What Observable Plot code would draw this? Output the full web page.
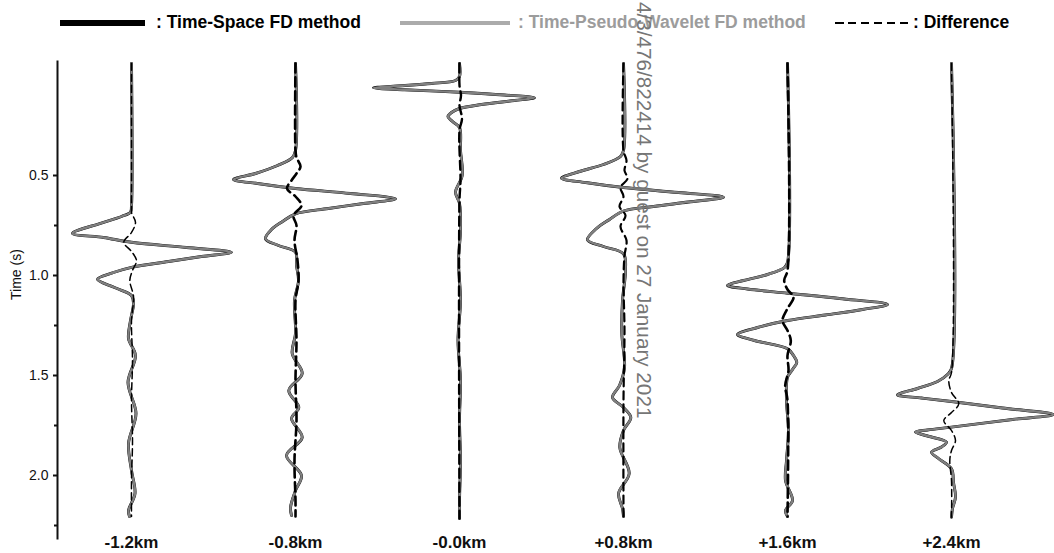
<!DOCTYPE html>
<html><head><meta charset="utf-8">
<script src="https://cdn.jsdelivr.net/npm/d3@7"></script>
<script src="https://cdn.jsdelivr.net/npm/@observablehq/plot@0.6"></script>
<style>
body{margin:0;background:#fff;font-family:"Liberation Sans",Arial,Helvetica,sans-serif;}
#wrap{position:relative;width:1054px;height:553px;overflow:hidden;background:#fff;}
#legend{position:relative;height:40px;}
.ll{position:absolute;}
.lt{position:absolute;top:14px;font-size:17.5px;font-weight:bold;line-height:17.5px;white-space:nowrap;}
#wm{position:absolute;left:633px;top:2px;writing-mode:vertical-rl;font-size:20.7px;line-height:22px;color:#767676;white-space:nowrap;}
</style></head>
<body><div id="wrap">
<div id="legend"></div>
<div id="chart"></div>
<div id="wm"></div>
</div>
<script>
// ---- data (time in s, amplitude in normalized units) ----
const traceLabels = ["-1.2km", "-0.8km", "-0.0km", "+0.8km", "+1.6km", "+2.4km"];
const legendLabels = [": Time-Space FD method", ": Time-Pseudo-Wavelet FD method", ": Difference"];
const yLabel = "Time (s)";
const yTicks = [0.5, 1.0, 1.5, 2.0];
const yMinorTicks = [0.75, 1.25, 1.75, 2.25];
const watermark = "4/3/476/822414 by guest on 27 January 2021";

// waveforms (both FD methods overlap) : [time, amplitude]
const wave_m12 = [[-0.06,0],[0.65,0],[0.683,-0.01],[0.705,-0.10],[0.739,-0.31],[0.789,-0.59],[0.81,-0.28],[0.834,0],[0.86,0.55],[0.884,1.00],[0.905,0.70],[0.93,0.37],[0.959,0],[0.985,-0.18],[1.019,-0.34],[1.06,-0.17],[1.10,0],[1.14,0.02],[1.225,-0.01],[1.315,-0.03],[1.40,0.04],[1.535,-0.035],[1.69,0.045],[1.84,-0.03],[1.975,0.0],[2.09,0.035],[2.175,-0.03],[2.205,-0.02]];
const wave_m08 = [[-0.06,0],[0.375,0],[0.41,-0.03],[0.45,-0.18],[0.49,-0.40],[0.52,-0.62],[0.54,-0.38],[0.565,0],[0.59,0.55],[0.6165,1.00],[0.64,0.68],[0.665,0.33],[0.6915,0],[0.73,-0.13],[0.77,-0.24],[0.8165,-0.30],[0.85,-0.17],[0.8835,0],[0.95,0.01],[1.025,0.03],[1.125,-0.01],[1.29,0],[1.39,-0.033],[1.49,0.067],[1.575,-0.067],[1.66,0.033],[1.715,-0.04],[1.81,0.067],[1.90,-0.09],[2.00,0.06],[2.075,0],[2.16,-0.05],[2.20,-0.04]];
const wave_00 = [[-0.06,0],[0.005,0],[0.025,-0.04],[0.04,-0.28],[0.0525,-0.62],[0.0615,-0.86],[0.071,-0.55],[0.0835,0],[0.0975,0.45],[0.1115,0.75],[0.125,0.55],[0.145,0.22],[0.165,0],[0.185,-0.08],[0.205,-0.115],[0.23,-0.07],[0.26,0],[0.375,0.01],[0.50,0.027],[0.5835,-0.04],[0.64,0],[0.775,0.01],[0.925,-0.01],[1.125,0.01],[1.325,-0.015],[1.525,0.01],[1.725,0],[1.925,0.01],[2.125,0],[2.215,0]];
const wave_p08 = [[-0.06,0],[0.375,0],[0.405,-0.03],[0.445,-0.20],[0.48,-0.44],[0.5135,-0.62],[0.535,-0.38],[0.56,0],[0.585,0.55],[0.6085,1.00],[0.6325,0.65],[0.655,0.30],[0.6775,0],[0.72,-0.14],[0.765,-0.27],[0.8215,-0.36],[0.855,-0.20],[0.8915,0],[0.975,0.02],[1.125,-0.01],[1.29,-0.017],[1.46,0.01],[1.55,-0.04],[1.61,-0.11],[1.66,0],[1.71,0.073],[1.775,0],[1.86,-0.037],[1.99,0.057],[2.09,-0.05],[2.165,-0.01],[2.205,0]];
const wave_p16 = [[-0.06,0],[0.935,0],[0.96,-0.03],[0.995,-0.20],[1.025,-0.44],[1.05,-0.60],[1.0675,-0.40],[1.0885,0],[1.115,0.52],[1.145,1.00],[1.17,0.75],[1.1975,0.38],[1.225,0],[1.26,-0.30],[1.295,-0.50],[1.325,-0.33],[1.3665,0],[1.40,0.06],[1.4335,0.093],[1.47,0.05],[1.5085,0],[1.625,-0.01],[1.775,0.01],[1.925,-0.01],[2.025,-0.02],[2.125,0.05],[2.175,-0.02],[2.205,0]];
const wave_p24 = [[-0.06,0],[1.465,0],[1.495,-0.04],[1.53,-0.14],[1.565,-0.34],[1.5965,-0.54],[1.6125,-0.30],[1.63,0],[1.6625,0.51],[1.695,1.02],[1.72,0.61],[1.758,0],[1.7725,-0.24],[1.7825,-0.36],[1.80,-0.26],[1.8335,-0.05],[1.8575,-0.10],[1.8835,-0.20],[1.915,-0.13],[1.9665,0],[2.035,0.02],[2.1085,0.04],[2.165,0.01],[2.2085,0]];

// differences : [time, amplitude]
const diff_m12 = [[-0.06,0],[0.65,0],[0.685,0],[0.7335,0.04],[0.785,0],[0.8335,-0.077],[0.88,0],[0.925,0.05],[0.975,0.01],[1.025,-0.017],[1.105,0.02],[1.225,0],[1.425,0.01],[1.625,0],[1.825,0.01],[2.025,0],[2.205,0]];
const diff_m08 = [[-0.06,0],[0.375,0],[0.41,0.01],[0.455,0.05],[0.49,0.01],[0.525,-0.04],[0.565,-0.085],[0.605,0],[0.65,0.06],[0.70,-0.02],[0.75,0.01],[0.825,-0.01],[0.925,0.02],[1.025,0.03],[1.125,0],[1.325,0.01],[1.525,0],[1.725,0.01],[1.925,-0.01],[2.125,0],[2.205,0]];
const diff_00 = [[-0.06,0],[0.05,0],[0.10,0.015],[0.15,0],[0.215,0.025],[0.275,0],[0.525,0.01],[0.625,0],[2.215,0]];
const diff_p08 = [[-0.06,0],[0.375,0],[0.425,0.03],[0.475,0.01],[0.515,0.04],[0.56,-0.03],[0.605,0],[0.655,-0.04],[0.70,0.02],[0.755,-0.03],[0.825,0.03],[0.90,0.01],[1.025,0],[1.275,0.01],[1.625,0],[2.205,0]];
const diff_p16 = [[-0.06,0],[0.975,0],[1.025,-0.033],[1.07,0],[1.1085,0.06],[1.165,0],[1.225,-0.05],[1.275,0],[1.325,0.033],[1.40,0],[1.475,0.01],[1.55,-0.023],[1.625,0],[2.205,0]];
const diff_p24 = [[-0.06,0],[1.485,0],[1.525,-0.027],[1.585,0],[1.6415,0.073],[1.685,0],[1.725,-0.077],[1.775,0],[1.825,0.04],[1.875,0],[1.925,-0.017],[2.025,0],[2.2085,0]];

const waves = [wave_m12, wave_m08, wave_00, wave_p08, wave_p16, wave_p24];
const diffs = [diff_m12, diff_m08, diff_00, diff_p08, diff_p16, diff_p24];

// ---- legend ----
const legendStyles = [
  {lx:60, lw:85, lh:5.5, bg:"#000", tx:156, color:"#000"},
  {lx:400, lw:110, lh:4.5, bg:"#ababab", tx:518, color:"#9c9c9c"},
  {lx:835, lw:73, lh:2.4, bg:"repeating-linear-gradient(to right,#000 0 8.5px,transparent 8.5px 12.9px)", tx:913, color:"#000"}
];
const legend = document.getElementById("legend");
legendLabels.forEach((lab, k) => {
  const s = legendStyles[k];
  const line = document.createElement("div");
  line.className = "ll";
  line.style.left = s.lx + "px"; line.style.width = s.lw + "px";
  line.style.top = (23 - s.lh / 2) + "px"; line.style.height = s.lh + "px";
  line.style.background = s.bg;
  legend.appendChild(line);
  const t = document.createElement("div");
  t.className = "lt"; t.style.left = s.tx + "px"; t.style.color = s.color;
  t.textContent = lab;
  legend.appendChild(t);
});
document.getElementById("wm").textContent = watermark;

// ---- chart ----
const gain = 100 / 164;
const xOf = i => d => i + d[1] * gain;
const diffWidth = [1.5, 2.6, 2.4, 2.2, 2.6, 1.5];
const diffDash = ["7,4", "9,5", "9,5", "8,5", "9,5", "7,4"];
const marks = [];
waves.forEach((w, i) => {
  marks.push(Plot.line(w, {x: xOf(i), y: d => d[0], stroke: "#000", strokeWidth: 2.9, curve: "catmull-rom"}));
});
waves.forEach((w, i) => {
  marks.push(Plot.line(w, {x: xOf(i), y: d => d[0], stroke: "#808080", strokeWidth: 2.4, curve: "catmull-rom"}));
});
diffs.forEach((w, i) => {
  marks.push(Plot.line(w, {x: xOf(i), y: d => d[0], stroke: "#000", strokeWidth: diffWidth[i], strokeDasharray: diffDash[i], curve: "catmull-rom"}));
});

const chart = Plot.plot({
  width: 1054,
  height: 513,
  marginTop: 21,
  marginBottom: 15,
  marginLeft: 57,
  marginRight: 0,
  style: {fontFamily: "Liberation Sans, Arial, Helvetica, sans-serif", color: "#111", background: "#fff"},
  x: {domain: [0, 5], range: [131, 951]},
  y: {domain: [-0.07, 2.315], reverse: true},
  marks: [
    Plot.frame({anchor: "left", strokeWidth: 2, stroke: "#111"}),
    Plot.axisY({ticks: yTicks, tickSize: 4, tickPadding: 5, strokeWidth: 2, fontSize: 14, tickFormat: d3.format(".1f"), label: null}),
    Plot.axisY({ticks: yMinorTicks, tickSize: 3, strokeWidth: 2, tickFormat: () => "", label: null}),
    Plot.axisX({ticks: d3.range(traceLabels.length), tickFormat: i => traceLabels[i], tickSize: 0, tickPadding: -3, fontSize: 17, fontWeight: "bold", label: null}),
    Plot.text([yLabel], {text: d => d, frameAnchor: "left", dx: -41, rotate: -90, fontSize: 14}),
    ...marks
  ]
});
document.getElementById("chart").appendChild(chart);
</script>
</body></html>
